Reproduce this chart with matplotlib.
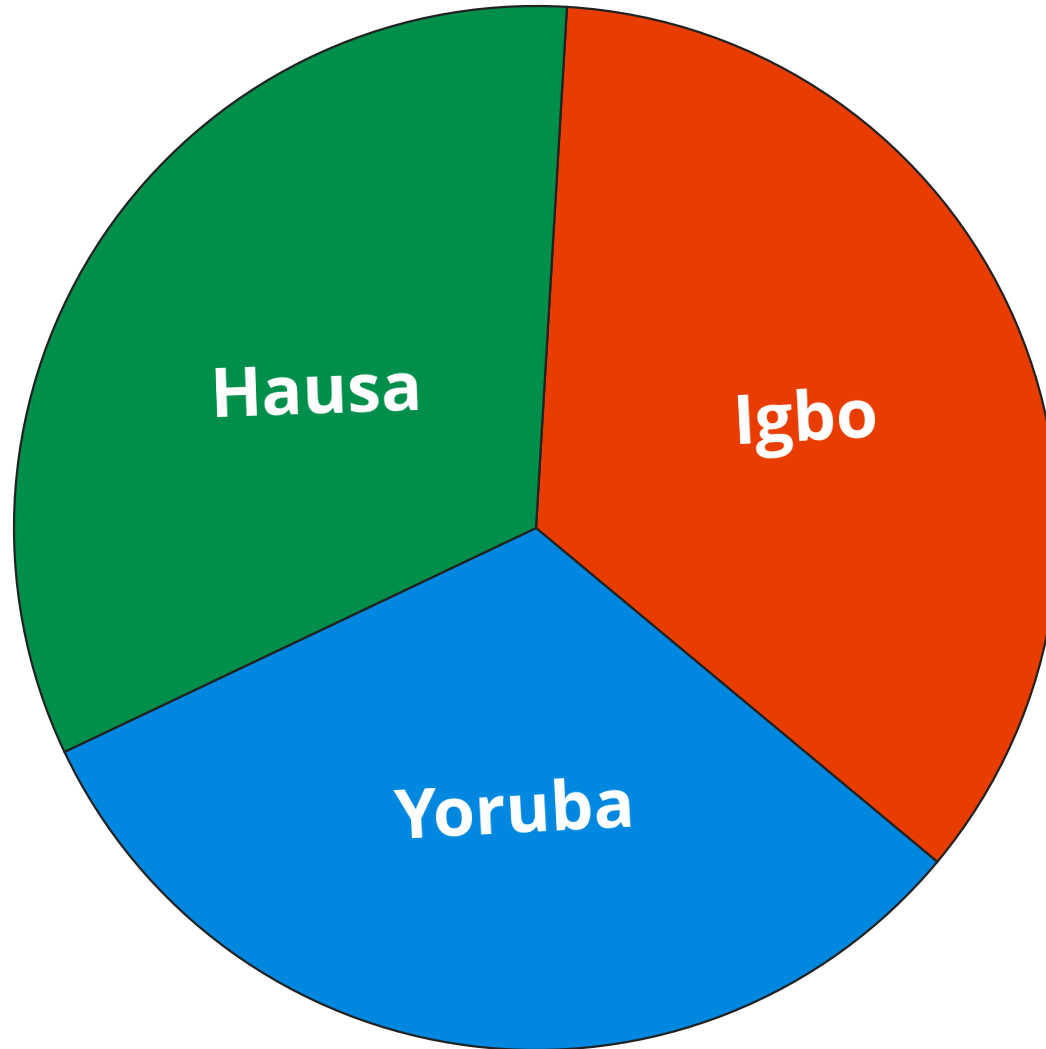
import matplotlib
matplotlib.use("Agg")
import numpy as np
import matplotlib.pyplot as plt

categories = ["Igbo", "Yoruba", "Hausa"]
values = [35.1, 31.9, 33.0]
colors = ["#E83C00", "#0088E0", "#008F4A"]
label_rot = [3, 3, 2]
label_dist = [0.555, 0.54, 0.50]
label_dang = [-1.0, 2.5, 2.0]

CX, CY, R = 536, 521, 522

fig = plt.figure(figsize=(10.46, 10.49), dpi=100)
ax = fig.add_axes([0, 0, 1, 1])

wedges, texts = ax.pie(
    values, labels=categories, colors=colors, startangle=86.6,
    counterclock=False, radius=R, center=(CX, CY), frame=True,
    labeldistance=0.54,
    wedgeprops=dict(edgecolor="#222222", linewidth=1.6),
    textprops=dict(color="white", fontsize=49, fontweight="bold",
                   family=["Open Sans", "DejaVu Sans"], ha="center", va="center"),
)
ax.set_xlim(0, 1046)
ax.set_ylim(0, 1049)
ax.axis("off")
for w, t, r, d, da in zip(wedges, texts, label_rot, label_dist, label_dang):
    ang = np.deg2rad((w.theta1 + w.theta2) / 2 + da)
    t.set_position((CX + d * R * np.cos(ang) + 2, CY + d * R * np.sin(ang) - 5))
    t.set_rotation(r)
    t.set_horizontalalignment("center")
    t.set_verticalalignment("center")

fig.savefig("out.png", dpi=100)
